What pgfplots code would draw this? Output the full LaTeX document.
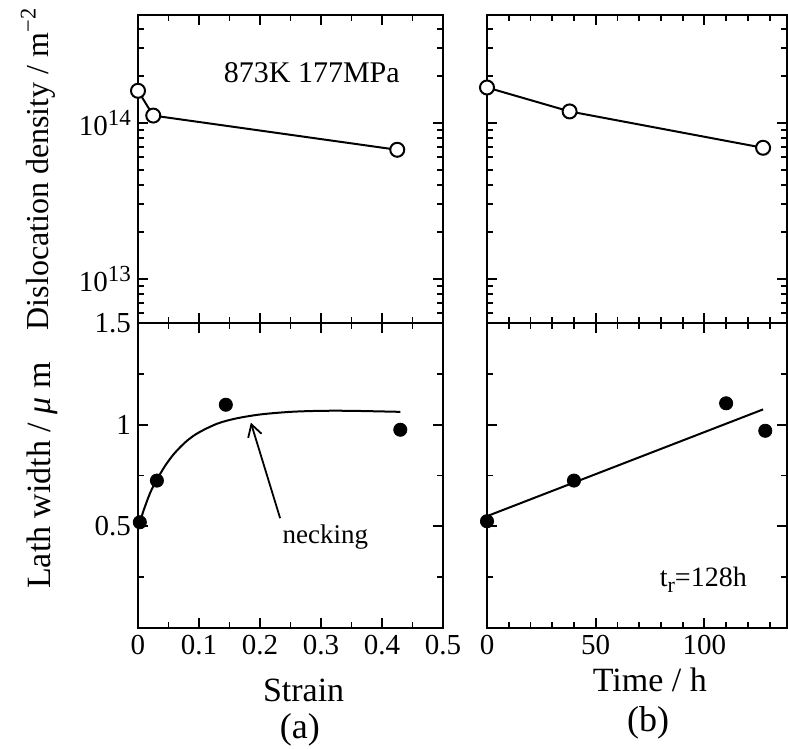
\documentclass[border=0pt]{standalone}
\usepackage{fontspec}
\setmainfont{Liberation Serif}
\usepackage{pgfplots}
\pgfplotsset{compat=1.18}
\usetikzlibrary{arrows.meta}

\newcommand{\pten}[1]{10\raisebox{5pt}{\fontsize{11.5}{13}\selectfont #1}}

\pgfplotsset{
 base/.style={scale only axis, clip=false,
   axis line style={line width=0.9pt},
   every tick/.style={line width=0.9pt, black},
   major tick length=5pt, minor tick length=3pt,
   tick align=inside, xtick pos=both, ytick pos=both,
   xticklabel pos=lower, yticklabel pos=left,
   tick label style={font=\fontsize{14.5}{17}\selectfont},
   label style={font=\fontsize{17}{20}\selectfont},
   /pgf/number format/assume math mode=true},
 opencirc/.style={black, line width=1pt, mark=*, mark size=3.5pt, mark options={fill=white, line width=1pt}},
 filledcirc/.style={only marks, mark=*, mark size=3.3pt, mark options={fill=black, draw=black}},
}

\begin{document}
\begin{tikzpicture}
% ---------- bottom left ----------
\begin{axis}[base, at={(0pt,0pt)}, anchor=south west,
  width=152.5pt, height=152.5pt,
  xmin=0, xmax=0.5, ymin=0, ymax=1.5,
  xtick={0,0.1,0.2,0.3,0.4,0.5}, xticklabels={0,0.1,0.2,0.3,0.4,0.5},
  minor xtick={0.05,0.15,0.25,0.35,0.45},
  ytick={0.5,1,1.5}, yticklabels={0.5,1,1.5},
  minor ytick={0.25,0.75,1.25},
  xlabel={Strain}, xlabel style={at={(axis description cs:0.543,-0.203)}, anchor=center},
  ylabel={Lath width / \textit{μ} m}, ylabel style={at={(axis description cs:-0.315,0.5)}, anchor=center},
]
\addplot[black, line width=1pt, smooth] coordinates {
 (0.003,0.52) (0.01,0.585) (0.02,0.665) (0.031,0.73) (0.045,0.80) (0.06,0.86)
 (0.08,0.92) (0.1,0.962) (0.13,1.005) (0.16,1.03) (0.2,1.05) (0.25,1.063)
 (0.3,1.068) (0.35,1.068) (0.43,1.063)};
\addplot[filledcirc] coordinates {(0.003,0.52) (0.031,0.725) (0.144,1.098) (0.43,0.975)};
\draw[-{Straight Barb[length=6pt,width=7pt]}, line width=0.9pt] (axis cs:0.233,0.54) -- (axis cs:0.185,1.01);
\node[font=\fontsize{13.5}{16}\selectfont] at (axis cs:0.307,0.446) {necking};
\node[font=\fontsize{18}{21}\selectfont] at (axis description cs:0.531,-0.334) {(a)};
\end{axis}

% ---------- top left ----------
\begin{axis}[base, ymode=log, at={(0pt,152.5pt)}, anchor=south west,
  width=152.5pt, height=154pt,
  xmin=0, xmax=0.5, ymin=5.2e12, ymax=4.9e14,
  xtick={0,0.1,0.2,0.3,0.4,0.5}, xticklabels={},
  minor xtick={0.05,0.15,0.25,0.35,0.45},
  ytick={1e13,1e14}, yticklabels={\pten{13},\pten{14}},
  minor ytick={6e12,7e12,8e12,9e12,2e13,3e13,4e13,5e13,6e13,7e13,8e13,9e13,2e14,3e14,4e14},
  ylabel={Dislocation density / m\textsuperscript{−2}},
  ylabel style={at={(axis description cs:-0.328,0.5)}, anchor=center, font=\fontsize{16}{19}\selectfont},
]
\addplot[opencirc] coordinates {(0,1.6e14) (0.025,1.11e14) (0.425,6.7e13)};
\node[font=\fontsize{15}{18}\selectfont] at (axis cs:0.285,2.1e14) {873K 177MPa};
\end{axis}

% ---------- bottom right ----------
\begin{axis}[base, at={(174.5pt,0pt)}, anchor=south west,
  width=150pt, height=152.5pt,
  xmin=0, xmax=138, ymin=0, ymax=1.5,
  xtick={0,50,100}, xticklabels={0,50,100},
  minor xtick={10,20,30,40,60,70,80,90,110,120,130},
  ytick={0.5,1,1.5}, yticklabels={},
  minor ytick={0.25,0.75,1.25},
  xlabel={Time / h}, xlabel style={at={(axis description cs:0.543,-0.17)}, anchor=center},
]
\addplot[black, line width=1pt] coordinates {(0,0.55) (127,1.075)};
\addplot[filledcirc] coordinates {(0,0.525) (40,0.725) (110,1.105) (128,0.97)};
\node[font=\fontsize{14}{17}\selectfont] at (axis cs:99.5,0.235) {t\raisebox{-3pt}{\fontsize{11}{13}\selectfont r}=128h};
\node[font=\fontsize{18}{21}\selectfont] at (axis description cs:0.537,-0.311) {(b)};
\end{axis}

% ---------- top right ----------
\begin{axis}[base, ymode=log, at={(174.5pt,152.5pt)}, anchor=south west,
  width=150pt, height=154pt,
  xmin=0, xmax=138, ymin=5.2e12, ymax=4.9e14,
  xtick={0,50,100}, xticklabels={},
  minor xtick={10,20,30,40,60,70,80,90,110,120,130},
  ytick={1e13,1e14}, yticklabels={},
  minor ytick={6e12,7e12,8e12,9e12,2e13,3e13,4e13,5e13,6e13,7e13,8e13,9e13,2e14,3e14,4e14},
]
\addplot[opencirc] coordinates {(0,1.68e14) (38,1.18e14) (127,6.9e13)};
\end{axis}

\pgfresetboundingbox
\path[use as bounding box] (-69pt,-60.5pt) rectangle (325pt,314pt);
\end{tikzpicture}
\end{document}
